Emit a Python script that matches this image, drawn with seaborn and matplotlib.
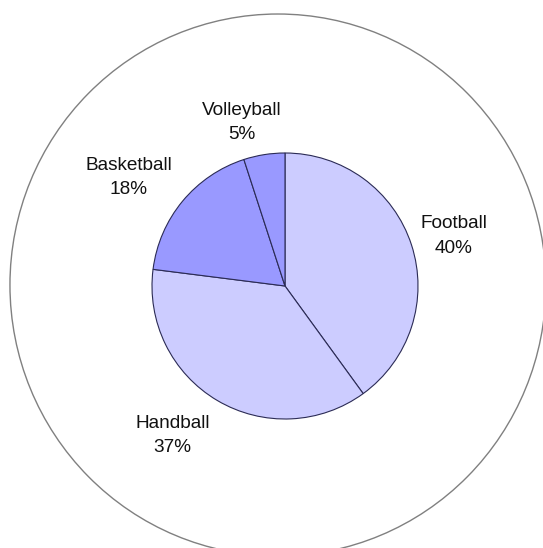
import numpy as np
import matplotlib
matplotlib.use("Agg")
import matplotlib.pyplot as plt
from matplotlib.patches import Ellipse
import seaborn as sns

# datos del grafico
sports = ["Football", "Handball", "Basketball", "Volleyball"]
shares = [40, 37, 18, 5]
slice_colors = ["#ccccff", "#ccccff", "#9999ff", "#9999ff"]

# ajuste fino de las etiquetas (distancia al centro, giro en grados)
label_dist = [1.325, 1.407, 1.429, 1.271]
label_shift = [-1.5, -6.4, 4.8, 5.7]

sns.set_theme(style="white")
plt.rcParams["font.family"] = ["Liberation Sans", "DejaVu Sans"]

fig = plt.figure(figsize=(5.43, 5.48), dpi=100)
ax = fig.add_axes([0, 0, 1, 1])

wedges, _ = ax.pie(
    shares,
    colors=slice_colors,
    startangle=90,
    counterclock=False,
    radius=1.0,
    wedgeprops=dict(edgecolor="#2b2b55", linewidth=0.8),
)

# etiquetas con nombre y porcentaje
for w, name, val, d, s in zip(wedges, sports, shares, label_dist, label_shift):
    mid = np.deg2rad((w.theta1 + w.theta2) / 2 + s)
    ax.text(d * np.cos(mid), d * np.sin(mid), f"{name}\n{val}%",
            ha="center", va="center", fontsize=13.7, color="#111111",
            linespacing=1.55)

# circulo exterior del area de trazado
ax.add_patch(Ellipse((-0.053, 0.0075), 4.03, 4.075, fill=False,
                     edgecolor="#808080", linewidth=1.0))

ax.set_xlim(-285 / 133, (543 - 285) / 133)
ax.set_ylim(-(548 - 286) / 133, 286 / 133)
ax.set_aspect("equal")
ax.axis("off")

fig.savefig("out.png", dpi=100, facecolor="white")
